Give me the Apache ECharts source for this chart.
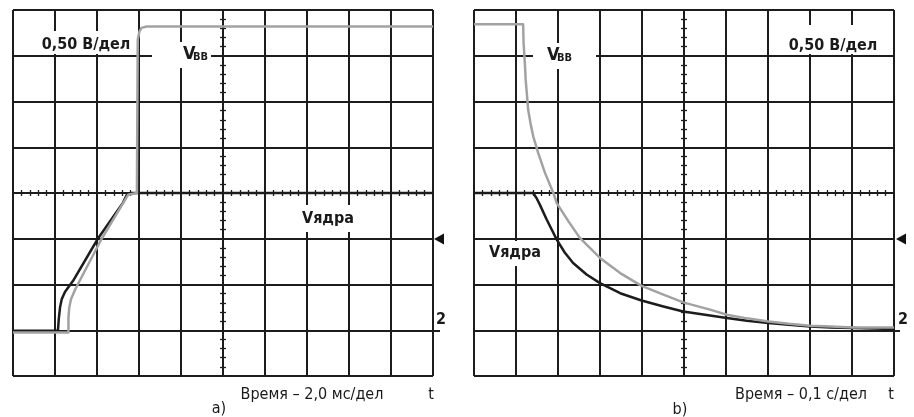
<!DOCTYPE html>
<html>
<head>
<meta charset="utf-8">
<script src="https://cdn.jsdelivr.net/npm/echarts@6/dist/echarts.min.js"></script>
<style>
  html, body { margin: 0; padding: 0; background: #fff; }
  #scope { width: 914px; height: 417px; }
</style>
</head>
<body>
<div id="scope"></div>
<script>
// screen in divisions: x -5..5, y -4..4
const X_RANGE = [-5, 5];
const Y_RANGE = [-4, 4];

// a) 2,0 ms/div
const aCore = [
  [-5, -3.01], [-3.93, -3.01], [-3.91, -2.75], [-3.88, -2.5], [-3.84, -2.32], [-3.76, -2.16],
  [-3.57, -1.92], [-2.98, -1.0], [-2.38, -0.21], [-2.29, -0.04], [-2.21, 0], [5, 0]
];
const aVbb = [
  [-5, -3.05], [-3.68, -3.05], [-3.68, -2.73], [-3.66, -2.5], [-3.62, -2.32], [-3.52, -2.11],
  [-2.89, -1.0], [-2.26, -0.04], [-2.05, 0], [-2.03, 3.35], [-1.99, 3.53],
  [-1.94, 3.61], [-1.82, 3.64], [5, 3.64]
];

// b) 0,1 s/div
const bVbb = [
  [-5, 3.69], [-3.83, 3.69], [-3.82, 3.29], [-3.79, 2.85], [-3.77, 2.48], [-3.71, 1.82],
  [-3.65, 1.5], [-3.59, 1.24], [-3.47, 0.87], [-3.31, 0.44], [-3.11, 0], [-3.03, -0.22],
  [-2.75, -0.62], [-2.48, -0.98], [-2.0, -1.42], [-1.52, -1.75], [-1.01, -2.03], [-0.49, -2.22],
  [-0.02, -2.39], [0.62, -2.55], [1.02, -2.66], [1.5, -2.74], [2.01, -2.81], [2.5, -2.86],
  [3.0, -2.9], [3.5, -2.92], [4.03, -2.94], [5, -2.94]
];
const bCore = [
  [-5, 0], [-3.59, 0], [-3.5, -0.13], [-3.43, -0.26], [-3.27, -0.58], [-3.03, -1.02],
  [-2.84, -1.3], [-2.64, -1.53], [-2.32, -1.78], [-2.0, -1.97], [-1.52, -2.19], [-1.01, -2.35],
  [-0.49, -2.48], [-0.02, -2.59], [0.62, -2.68], [1.02, -2.73], [1.5, -2.79], [2.01, -2.84],
  [2.5, -2.88], [3.0, -2.92], [3.5, -2.94], [4.03, -2.95], [5, -2.97]
];

const scaleText = '0,50 В/дел';
const timeText = ['Время – 2,0 мс/дел', 'Время – 0,1 с/дел'];
const panelText = ['a)', 'b)'];

const INK = '#1c1c1c';
const GREY = '#a2a2a2';
const FONT = '"Liberation Sans Narrow", "DejaVu Sans Condensed", "Roboto", sans-serif';

const grids = [
  { left: 13, top: 10, width: 420, height: 366 },
  { left: 474, top: 10, width: 420, height: 366 }
];

function xAxis(g, pos, withSplit) {
  return {
    gridIndex: g, type: 'value', position: pos,
    min: X_RANGE[0], max: X_RANGE[1], interval: 1,
    axisLine: { onZero: true, onZeroAxisIndex: g * 2, lineStyle: { color: INK, width: 2 } },
    axisTick: { show: false },
    minorTick: { show: true, splitNumber: 5, length: 3, lineStyle: { color: INK, width: 1.3 } },
    axisLabel: { show: false },
    splitLine: { show: withSplit, lineStyle: { color: INK, width: 2 } }
  };
}
function yAxis(g, pos, withSplit) {
  return {
    gridIndex: g, type: 'value', position: pos,
    min: Y_RANGE[0], max: Y_RANGE[1], interval: 1,
    axisLine: { onZero: true, onZeroAxisIndex: g * 2, lineStyle: { color: INK, width: 2 } },
    axisTick: { show: false },
    minorTick: { show: true, splitNumber: 5, length: 3, lineStyle: { color: INK, width: 1.3 } },
    axisLabel: { show: false },
    splitLine: { show: withSplit, lineStyle: { color: INK, width: 2 } }
  };
}

function trace(g, data, color) {
  return {
    type: 'line', xAxisIndex: g * 2, yAxisIndex: g * 2, data: data,
    showSymbol: false, symbol: 'none', smooth: false,
    lineStyle: { color: color, width: 2.5, join: 'round' }, z: 5, animation: false
  };
}

function box(x, y, w, h) {
  return { type: 'rect', z: 50, shape: { x: x, y: y, width: w, height: h }, style: { fill: '#fff' } };
}
function txt(s, x, y, size, bold, align, valign) {
  return {
    type: 'text', z: 60,
    style: {
      text: s, x: x, y: y, fill: '#1a1a1a',
      font: (bold ? 'bold ' : '') + size + 'px ' + FONT,
      textAlign: align || 'center', textVerticalAlign: valign || 'middle'
    }
  };
}
function arrow(x, y) {
  return { type: 'polygon', z: 60, shape: { points: [[x, y], [x + 10, y - 5.5], [x + 10, y + 5.5]] }, style: { fill: '#111' } };
}
function stub(x1, x2, y) {
  return { type: 'line', z: 60, shape: { x1: x1, y1: y, x2: x2, y2: y }, style: { stroke: INK, lineWidth: 2 } };
}

const chart = echarts.init(document.getElementById('scope'), null, { renderer: 'canvas' });
chart.setOption({
  animation: false,
  backgroundColor: '#fff',
  grid: grids,
  xAxis: [xAxis(0, 'bottom', true), xAxis(0, 'top', false), xAxis(1, 'bottom', true), xAxis(1, 'top', false)],
  yAxis: [yAxis(0, 'left', true), yAxis(0, 'right', false), yAxis(1, 'left', true), yAxis(1, 'right', false)],
  series: [
    trace(0, aCore, INK), trace(0, aVbb, GREY),
    trace(1, bCore, INK), trace(1, bVbb, GREY)
  ],
  graphic: [
    // panel a labels
    box(44, 31, 88, 23), txt(scaleText, 86, 45, 16, true),
    box(152, 42, 59, 26), txt('V', 183, 63, 18, true, 'left', 'bottom'), txt('BB', 193, 63, 11, true, 'left', 'bottom'),
    box(300, 205, 56, 27), txt('Vядра', 328, 219, 16, true),
    arrow(434, 239), stub(433, 440, 331), txt('2', 441, 320, 16, true),
    txt(timeText[0], 312, 395, 16, false), txt('t', 431, 395, 16, false),
    txt(panelText[0], 219, 409, 16, false),
    // panel b labels
    box(790, 25, 86, 29), txt(scaleText, 833, 46, 16, true),
    box(533, 43, 63, 26), txt('V', 547, 64, 18, true, 'left', 'bottom'), txt('BB', 557, 64, 11, true, 'left', 'bottom'),
    box(490, 241, 50, 25), txt('Vядра', 515, 253, 16, true),
    arrow(896, 239), stub(894, 900, 331), txt('2', 903, 320, 16, true),
    txt(timeText[1], 801, 395, 16, false), txt('t', 891, 395, 16, false),
    txt(panelText[1], 680, 410, 16, false)
  ]
});
</script>
</body>
</html>
